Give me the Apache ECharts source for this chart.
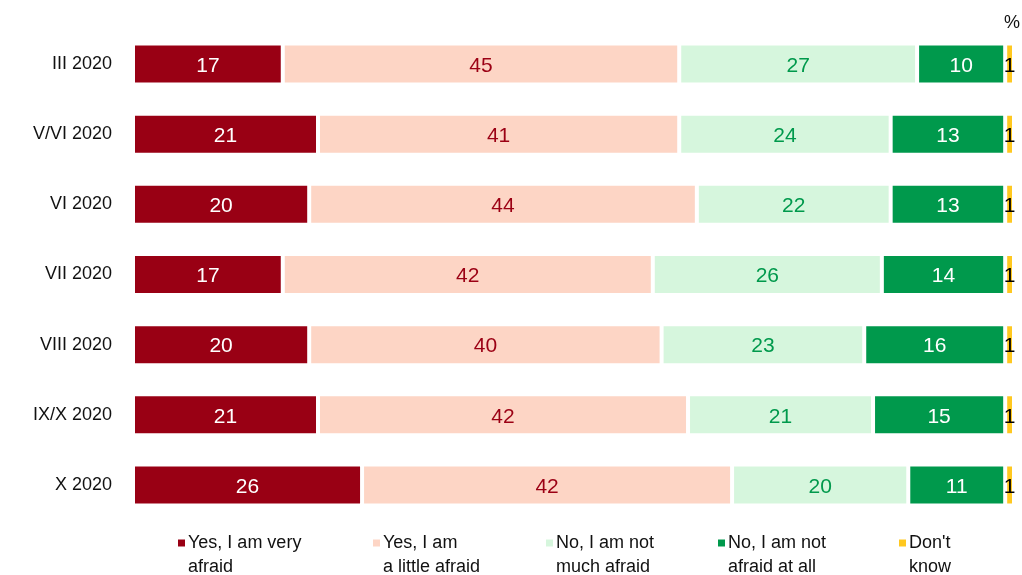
<!DOCTYPE html>
<html><head><meta charset="utf-8">
<script src="https://cdn.jsdelivr.net/npm/echarts@6/dist/echarts.min.js"></script>
<style>html,body{margin:0;padding:0;background:#fff}#c{width:1022px;height:575px}</style>
</head><body><div id="c"></div>
<script>
const categories = ['III 2020','V/VI 2020','VI 2020','VII 2020','VIII 2020','IX/X 2020','X 2020'];
const seriesNames = ['Yes, I am very\nafraid','Yes, I am\na little afraid','No, I am not\nmuch afraid','No, I am not\nafraid at all',"Don't\nknow"];
const veryAfraid = [17,21,20,17,20,21,26];
const littleAfraid = [45,41,44,42,40,42,42];
const notMuchAfraid = [27,24,22,26,23,21,20];
const notAtAll = [10,13,13,14,16,15,11];
const dontKnow = [1,1,1,1,1,1,1];
const values = [veryAfraid, littleAfraid, notMuchAfraid, notAtAll, dontKnow];
const colors = ['#990014','#FDD5C5','#D6F6DD','#00994C','#FFC820'];
const labelColors = ['#ffffff','#9B0014','#00994C','#ffffff','#000000'];
const legendLeft = [171, 366, 539, 711, 892];

const font = 'Liberation Sans, Arial, sans-serif';
const iconPath = 'path://M0,0H9V9H0Z M0,33L0.01,33';

const chart = echarts.init(document.getElementById('c'), null, {renderer:'canvas'});
chart.setOption({
  animation:false,
  backgroundColor:'#fff',
  grid:{left:133,right:8,top:29,bottom:55,containLabel:false},
  xAxis:{type:'value',min:0,max:100,show:false},
  yAxis:{type:'category',data:categories,inverse:true,
    axisLine:{show:false},axisTick:{show:false},
    axisLabel:{color:'#111',fontSize:18,fontFamily:font,margin:21}},
  legend: seriesNames.map((n,i)=>({
    data:[n], left:legendLeft[i], top:526, orient:'horizontal',
    icon:iconPath, itemWidth:9, itemHeight:33, itemGap:0,
    textStyle:{fontSize:18,fontFamily:font,color:'#111',lineHeight:24,padding:[0,0,0,-3]},
    selectedMode:false
  })),
  graphic:[{type:'text',left:1004,top:14,style:{text:'%',fontSize:18,fontFamily:font,fill:'#111'}}],
  series: values.map((v,i)=>({
    name:seriesNames[i], type:'bar', stack:'all', data:v, barWidth:41,
    itemStyle:{color:colors[i],borderColor:'#fff',borderWidth:2},
    label:{show:true,position:'inside',color:labelColors[i],fontSize:21,fontFamily:font,offset:[0,2]}
  }))
});
</script></body></html>
